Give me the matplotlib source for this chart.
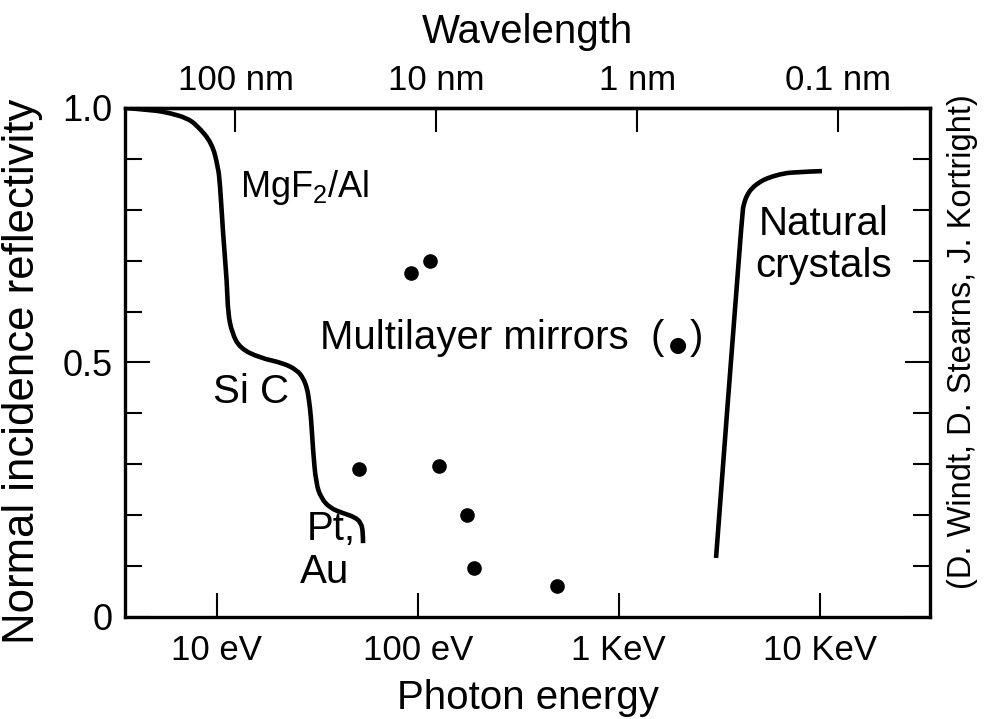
import numpy as np
import matplotlib
matplotlib.use('Agg')
import matplotlib.pyplot as plt
from matplotlib.path import Path
from matplotlib.patches import PathPatch
from matplotlib.transforms import IdentityTransform
from matplotlib.ticker import FixedLocator, NullLocator, MultipleLocator

plt.rcParams['font.family'] = ['Liberation Sans', 'DejaVu Sans']

HC = 1239.84  # eV*nm

# MgF2/Al -> SiC -> Pt, Au reflectivity envelope
uv_energy = [3.50, 4.82, 5.86, 7.12, 7.98, 9.48, 10.15, 10.38, 10.75, 11.25,
             11.38, 11.92, 13.06, 16.42, 21.37, 25.08, 26.88, 28.14, 28.79, 29.46,
             30.14, 31.19, 33.03, 36.62, 42.50, 48.76, 52.23, 53.45, 53.45]
uv_refl = [1.000, 0.996, 0.990, 0.980, 0.966, 0.931, 0.884, 0.853, 0.754, 0.656,
           0.597, 0.558, 0.528, 0.509, 0.499, 0.485, 0.470, 0.450, 0.426, 0.393,
           0.328, 0.263, 0.234, 0.214, 0.204, 0.196, 0.185, 0.167, 0.145]

# natural crystals (Bragg reflection)
xtal_energy = [3049, 4107, 4202, 4348, 4605, 5047, 5469, 6345, 7367, 10265]
xtal_refl = [0.116, 0.794, 0.813, 0.829, 0.843, 0.855, 0.862, 0.870, 0.874, 0.876]

# multilayer mirror results
ml_energy = [92.3, 115.1, 51.0, 127.6, 176.5, 189.9, 494.9]
ml_refl = [0.676, 0.699, 0.291, 0.296, 0.200, 0.097, 0.061]

energy_ticks = [10, 100, 1000, 10000]
energy_labels = ['10 eV', '100 eV', '1 KeV', '10 KeV']
wl_ticks = [100, 10, 1, 0.1]
wl_labels = ['100 nm', '10 nm', '1 nm', '0.1 nm']
refl_ticks = [0, 0.5, 1.0]
refl_labels = ['0', '0.5', '1.0']

FS = 25     # tick labels
LFS = 29    # curve labels and axis titles


def smooth_curve(ax, x, y, lw):
    """Draw a rounded curve through the points (quadratic Bezier in display space)."""
    pts = ax.transData.transform(np.column_stack([x, y]))
    verts = [pts[0]]
    codes = [Path.MOVETO]
    for i in range(1, len(pts) - 1):
        verts += [pts[i], (pts[i] + pts[i + 1]) / 2]
        codes += [Path.CURVE3, Path.CURVE3]
    verts[-1] = pts[-1]
    patch = PathPatch(Path(verts, codes), transform=IdentityTransform(),
                      facecolor='none', edgecolor='black', lw=lw,
                      capstyle='butt', joinstyle='round')
    ax.add_patch(patch)


fig = plt.figure(figsize=(9.94, 7.19), dpi=100)
ax = fig.add_axes([0.1258, 0.1419, 0.8099, 0.7079])

ax.set_xscale('log')
ax.set_xlim(3.5, 35400)
ax.set_ylim(0, 1.0)

smooth_curve(ax, uv_energy, uv_refl, 3.3)
smooth_curve(ax, xtal_energy, xtal_refl, 3.3)
ax.plot(ml_energy, ml_refl, 'o', color='black', ms=9.5, ls='none')

for s in ax.spines.values():
    s.set_linewidth(2.4)

ax.xaxis.set_major_locator(FixedLocator(energy_ticks))
ax.xaxis.set_minor_locator(NullLocator())
ax.set_xticklabels(energy_labels)
ax.tick_params(axis='x', which='major', direction='in', length=17, width=1.5,
               labelsize=FS, pad=12)

ax.yaxis.set_major_locator(FixedLocator(refl_ticks))
ax.yaxis.set_minor_locator(MultipleLocator(0.1))
ax.set_yticklabels(refl_labels)
ax.tick_params(axis='y', which='both', direction='in', left=True, right=True,
               width=1.5, labelsize=26, pad=9)
ax.tick_params(axis='y', which='major', length=18)
ax.tick_params(axis='y', which='minor', length=12)

ax.set_xlabel('Photon energy', fontsize=LFS, va='baseline')
ax.xaxis.set_label_coords(0.5, -0.181)
ax.set_ylabel('Normal incidence reflectivity', fontsize=31.5, va='center')
ax.yaxis.set_label_coords(-0.127, 0.483)

# wavelength scale on top
top = ax.secondary_xaxis('top', functions=(lambda e: HC / e, lambda w: HC / w))
top.set_xticks(wl_ticks)
top.set_xticklabels(wl_labels)
top.xaxis.set_minor_locator(NullLocator())
top.tick_params(axis='x', direction='in', length=17, width=1.5, labelsize=FS, pad=8)
top.spines['top'].set_linewidth(2.4)
ax.text(0.5, 1.128, 'Wavelength', fontsize=LFS, ha='center', va='baseline',
        transform=ax.transAxes)

# curve labels
ax.text(13.1, 0.825, r'MgF$_\mathregular{2}$/Al', fontsize=26, ha='left', va='baseline')
ax.text(14.9, 0.420, 'Si C', fontsize=LFS, ha='center', va='baseline')
ax.text(28.1, 0.151, 'Pt,', fontsize=LFS, ha='left', va='baseline')
ax.text(26.0, 0.067, 'Au', fontsize=LFS, ha='left', va='baseline')
ax.text(10500, 0.750, 'Natural', fontsize=LFS, ha='center', va='baseline')
ax.text(10500, 0.668, 'crystals', fontsize=LFS, ha='center', va='baseline')

# "Multilayer mirrors ( ● )" with a dot the size of the data markers
ml_label = ax.text(32.7, 0.526, 'Multilayer mirrors  (', fontsize=LFS,
                   ha='left', va='baseline')
ml_dot = ax.annotate('\u25cf', xy=(1, 0.5), xycoords=ml_label,
                     xytext=(3, -4.5), textcoords='offset points',
                     fontsize=15, family='DejaVu Sans', ha='left', va='center')
ax.annotate(')', xy=(1, 0), xycoords=(ml_dot, ml_label),
            xytext=(2, 0), textcoords='offset points',
            fontsize=LFS, ha='left', va='bottom')

ax.text(1.040, 0.541, '(D. Windt, D. Stearns, J. Kortright)', fontsize=23.5,
        rotation=90, ha='center', va='center', transform=ax.transAxes)

fig.savefig('out.png', dpi=100)
